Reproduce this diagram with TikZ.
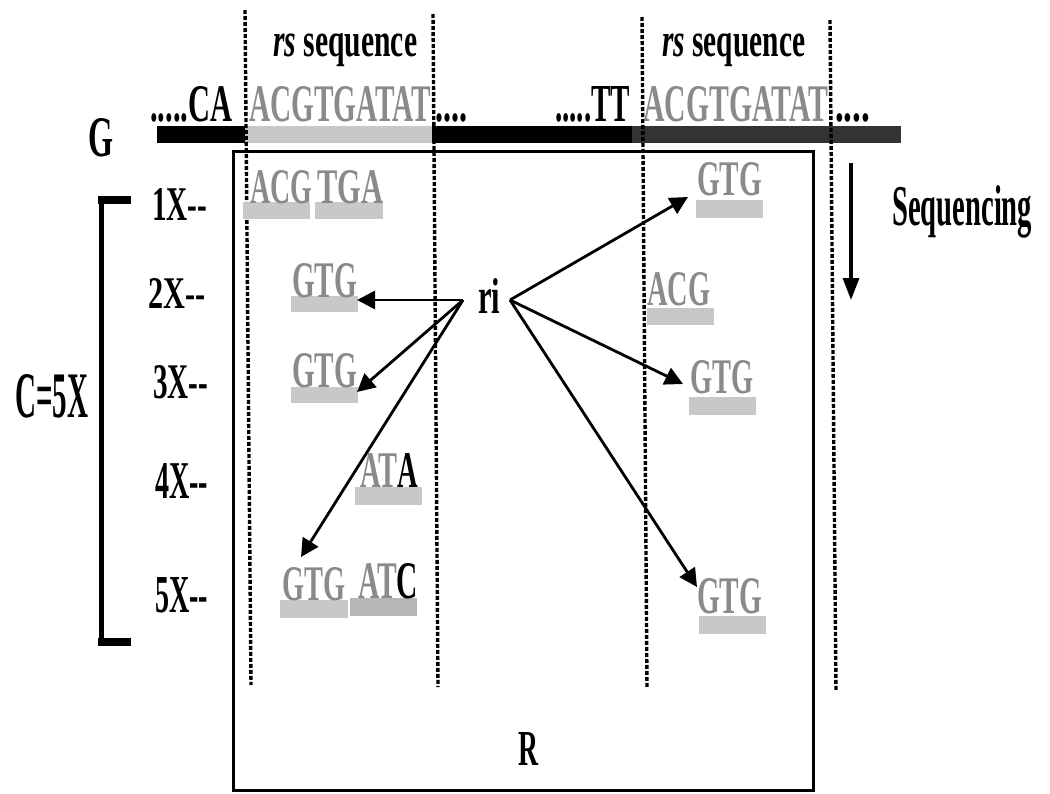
\documentclass[tikz,border=0pt]{standalone}
\usepackage{fontspec}
\setmainfont{Liberation Serif}
\usepackage{graphicx}
\usetikzlibrary{arrows.meta}
\definecolor{seqgray}{HTML}{8A8A8A}
\definecolor{barlight}{HTML}{C8C8C8}
\definecolor{bardark}{HTML}{B6B6B6}
\definecolor{gline}{HTML}{333333}
\newcommand\tx[3]{\resizebox{#1pt}{#2pt}{\bfseries #3}}
\tikzset{
  txt/.style={inner sep=0pt, anchor=base west},
  gtxt/.style={txt, text=seqgray},
  bar/.style={fill=barlight, draw=none},
  darkbar/.style={fill=bardark, draw=none},
  vdash/.style={line width=3.4pt, dash pattern=on 4pt off 2pt},
  arr/.style={line width=2.8pt, -{Triangle[length=18pt,width=18pt]}},
}
\begin{document}
\begin{tikzpicture}[x=1pt,y=-1pt]
\useasboundingbox (0,0) rectangle (1050,793);
% genome bar G
\fill[black] (157,126) rectangle (245,143);
\fill[barlight] (245,126) rectangle (432,143);
\fill[black] (432,126) rectangle (632,143);
\fill[gline] (632,126) rectangle (901,143);
\node[txt] (G) at (88,156) {\tx{25}{38}{G}};
% top sequences
\node[txt] (ca) at (150,121) {\tx{82}{35}{.....CA}};
\node[gtxt] (s1) at (249,121) {\tx{182}{35}{ACGTGATAT}};
\node[txt] (d1) at (435,121) {\tx{32}{35}{\vphantom{A}....}};
\node[txt] (tt) at (555,121) {\tx{75}{35}{.....TT}};
\node[gtxt] (s2) at (643,121) {\tx{185}{35}{ACGTGATAT}};
\node[txt] (d2) at (835,121) {\tx{35}{35}{\vphantom{A}....}};
\node[txt] (rs1) at (273,56) {\tx{144}{23}{\textit{rs} sequence}};
\node[txt] (rs2) at (662,56) {\tx{143}{23}{\textit{rs} sequence}};
% box R
\draw[line width=3pt] (233,151) rectangle (813,790);
\node[txt] (R) at (518,765) {\tx{20}{33}{R}};
% dashed verticals
\draw[vdash] (245,10) -- (251,685);
\draw[vdash] (433,14) -- (438,687);
\draw[vdash] (642,17) -- (647,688);
\draw[vdash] (830,20) -- (836,691);
% sequencing
\node[txt] (seq) at (892,225) {\tx{140}{40}{Sequencing}};
\coordinate (sqa) at (851,163);
\coordinate (sqb) at (851,300);
\draw[line width=3.2pt, -{Triangle[length=22pt,width=16pt]}] (sqa) -- (sqb);
% bracket
\draw[line width=5pt] (101,198) -- (101,645);
\draw[line width=8pt] (98,200) -- (131,200);
\draw[line width=8pt] (98,642) -- (131,642);
\node[txt] (c5) at (15,417) {\tx{73}{43}{C=5X}};
\node[txt] (x1) at (152,220) {\tx{55}{32}{1X{-}{-}}};
\node[txt] (x2) at (148,308) {\tx{57}{30}{2X{-}{-}}};
\node[txt] (x3) at (153,398) {\tx{55}{33}{3X{-}{-}}};
\node[txt] (x4) at (155,498) {\tx{53}{35}{4X{-}{-}}};
\node[txt] (x5) at (155,612) {\tx{53}{35}{5X{-}{-}}};
% fragments left
\fill[bar] (243,202) rectangle (310,219);
\node[gtxt] (f1) at (250,203) {\tx{62}{33}{ACG}};
\fill[bar] (315,202) rectangle (383,219);
\node[gtxt] (f2) at (317,203) {\tx{66}{33}{TGA}};
\fill[bar] (291,296) rectangle (358,312);
\node[gtxt] (f3) at (292,297) {\tx{65}{34}{GTG}};
\fill[bar] (291,387) rectangle (358,403);
\node[gtxt] (f4) at (292,387) {\tx{65}{34}{GTG}};
\fill[bar] (355,487) rectangle (422,505);
\node[gtxt] (f5) at (360,487) {\tx{58}{34}{AT\textcolor{black}{A}}};
\fill[bar] (280,600) rectangle (348,618);
\node[gtxt] (f6) at (282,600) {\tx{63}{33}{GTG}};
\fill[darkbar] (350,598) rectangle (417,616);
\node[gtxt] (f7) at (358,598) {\tx{60}{35}{AT\textcolor{black}{C}}};
% fragments right
\fill[bar] (696,200) rectangle (763,218);
\node[gtxt] (g1) at (697,195) {\tx{65}{33}{GTG}};
\fill[bar] (647,308) rectangle (714,325);
\node[gtxt] (g2) at (647,305) {\tx{63}{33}{ACG}};
\fill[bar] (689,397) rectangle (756,415);
\node[gtxt] (g3) at (690,393) {\tx{63}{33}{GTG}};
\fill[bar] (699,616) rectangle (766,634);
\node[gtxt] (g4) at (697,613) {\tx{65}{35}{GTG}};
% ri and arrows
\node[txt] (ri) at (478,313) {\tx{22}{35}{ri}};
\coordinate (riL) at (463,300);
\coordinate (riR) at (510,300);
\coordinate (t1) at (357,300);
\coordinate (t2) at (357,392);
\coordinate (t3) at (301,557);
\coordinate (t4) at (688,197);
\coordinate (t5) at (683,384);
\coordinate (t6) at (697,587);
\draw[arr] (riL) -- (t1);
\draw[arr] (riL) -- (t2);
\draw[arr] (riL) -- (t3);
\draw[arr] (riR) -- (t4);
\draw[arr] (riR) -- (t5);
\draw[arr] (riR) -- (t6);
\end{tikzpicture}
\end{document}
